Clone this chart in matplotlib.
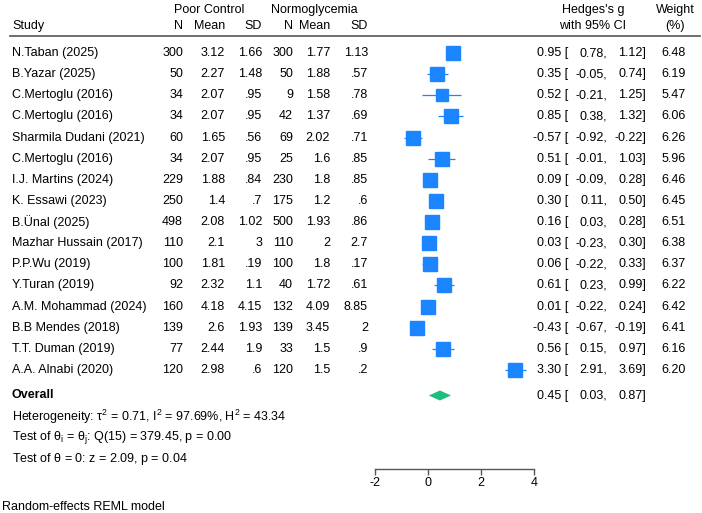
import numpy as np
import matplotlib.pyplot as plt

plt.rcParams['font.family'] = ['Liberation Sans', 'DejaVu Sans']
plt.rcParams['mathtext.fontset'] = 'custom'
plt.rcParams['mathtext.rm'] = 'Liberation Sans'
plt.rcParams['mathtext.it'] = 'Liberation Sans:italic'

# ---------------- data ----------------
studies = ["N.Taban (2025)", "B.Yazar (2025)", "C.Mertoglu (2016)", "C.Mertoglu (2016)",
           "Sharmila Dudani (2021)", "C.Mertoglu (2016)", "I.J. Martins (2024)", "K. Essawi (2023)",
           "B.Ünal (2025)", "Mazhar Hussain (2017)", "P.P.Wu (2019)", "Y.Turan (2019)",
           "A.M. Mohammad (2024)", "B.B Mendes (2018)", "T.T. Duman (2019)", "A.A. Alnabi (2020)"]
pc_n = [300, 50, 34, 34, 60, 34, 229, 250, 498, 110, 100, 92, 160, 139, 77, 120]
pc_mean = [3.12, 2.27, 2.07, 2.07, 1.65, 2.07, 1.88, 1.4, 2.08, 2.1, 1.81, 2.32, 4.18, 2.6, 2.44, 2.98]
pc_sd = [1.66, 1.48, .95, .95, .56, .95, .84, .7, 1.02, 3, .19, 1.1, 4.15, 1.93, 1.9, .6]
nm_n = [300, 50, 9, 42, 69, 25, 230, 175, 500, 110, 100, 40, 132, 139, 33, 120]
nm_mean = [1.77, 1.88, 1.58, 1.37, 2.02, 1.6, 1.8, 1.2, 1.93, 2, 1.8, 1.72, 4.09, 3.45, 1.5, 1.5]
nm_sd = [1.13, .57, .78, .69, .71, .85, .85, .6, .86, 2.7, .17, .61, 8.85, 2, .9, .2]
g = [0.95, 0.35, 0.52, 0.85, -0.57, 0.51, 0.09, 0.30, 0.16, 0.03, 0.06, 0.61, 0.01, -0.43, 0.56, 3.30]
g_lo = [0.78, -0.05, -0.21, 0.38, -0.92, -0.01, -0.09, 0.11, 0.03, -0.23, -0.22, 0.23, -0.22, -0.67, 0.15, 2.91]
g_hi = [1.12, 0.74, 1.25, 1.32, -0.22, 1.03, 0.28, 0.50, 0.28, 0.30, 0.33, 0.99, 0.24, -0.19, 0.97, 3.69]
weight = [6.48, 6.19, 5.47, 6.06, 6.26, 5.96, 6.46, 6.45, 6.51, 6.38, 6.37, 6.22, 6.42, 6.41, 6.16, 6.20]
overall = [0.45, 0.03, 0.87]
xticks = [-2, 0, 2, 4]

blue = '#1a85ff'
green = '#1dbd7e'
fs = 9.0


def stata_fmt(v):
    s = f"{v:g}"
    if s.startswith("0."):
        s = s[1:]
    return s


fig = plt.figure(figsize=(7.02, 5.13), dpi=100)

# text layer in pixel coordinates
tx = fig.add_axes([0, 0, 1, 1])
tx.set_xlim(0, 702)
tx.set_ylim(513, 0)
tx.axis('off')

row0, dy = 53, 21.13
ys = [row0 + dy * i for i in range(len(studies))]
y_over = 395.5

# header
tx.text(209, 10, "Poor Control", ha='center', va='center', fontsize=fs)
tx.text(314, 10, "Normoglycemia", ha='center', va='center', fontsize=fs)
tx.text(593, 10, "Hedges's g", ha='center', va='center', fontsize=fs)
tx.text(675, 10, "Weight", ha='center', va='center', fontsize=fs)
tx.text(12, 26, "Study", ha='left', va='center', fontsize=fs)
for xx, lab in zip([183, 225, 262, 293, 330, 368], ["N", "Mean", "SD", "N", "Mean", "SD"]):
    tx.text(xx, 26, lab, ha='right', va='center', fontsize=fs)
tx.text(593, 26, "with 95% CI", ha='center', va='center', fontsize=fs)
tx.text(675, 26, "(%)", ha='center', va='center', fontsize=fs)
tx.plot([10, 700], [36, 36], color='#555555', lw=1.2)

# study rows
for i, y in enumerate(ys):
    tx.text(12, y, studies[i], ha='left', va='center', fontsize=fs)
    cols = [str(pc_n[i]), stata_fmt(pc_mean[i]), stata_fmt(pc_sd[i]),
            str(nm_n[i]), stata_fmt(nm_mean[i]), stata_fmt(nm_sd[i])]
    for xx, s in zip([183, 225, 262, 293, 330, 368], cols):
        tx.text(xx, y, s, ha='right', va='center', fontsize=fs)
    tx.text(568, y, f"{g[i]:.2f} [", ha='right', va='center', fontsize=fs)
    tx.text(607, y, f"{g_lo[i]:.2f},", ha='right', va='center', fontsize=fs)
    tx.text(646, y, f"{g_hi[i]:.2f}]", ha='right', va='center', fontsize=fs)
    tx.text(686, y, f"{weight[i]:.2f}", ha='right', va='center', fontsize=fs)

tx.text(12, y_over, "Overall", ha='left', va='center', fontsize=fs, fontweight='bold')
tx.text(568, y_over, f"{overall[0]:.2f} [", ha='right', va='center', fontsize=fs)
tx.text(607, y_over, f"{overall[1]:.2f},", ha='right', va='center', fontsize=fs)
tx.text(646, y_over, f"{overall[2]:.2f}]", ha='right', va='center', fontsize=fs)

tx.text(12, 417, r"Heterogeneity: $\mathregular{\tau^2}$ = 0.71, $\mathregular{I^2}$ = 97.69%, $\mathregular{H^2}$ = 43.34",
        ha='left', va='center', fontsize=fs)
tx.text(12, 438, r"Test of $\mathregular{\theta_i}$ = $\mathregular{\theta_j}$: Q(15) = 379.45, p = 0.00",
        ha='left', va='center', fontsize=fs)
tx.text(12, 459, r"Test of $\mathregular{\theta}$ = 0: z = 2.09, p = 0.04",
        ha='left', va='center', fontsize=fs)
tx.text(2, 507, "Random-effects REML model", ha='left', va='center', fontsize=fs)

# forest panel: x from -2 (375px) to 4 (534px), y in row units
top_px, bot_px = 36, 469
ax = fig.add_axes([375 / 702, 1 - bot_px / 513, (534 - 375) / 702, (bot_px - top_px) / 513])
ax.set_xlim(-2, 4)
ax.set_ylim((bot_px - row0) / dy, (top_px - row0) / dy)
ax.patch.set_alpha(0)
for sp in ['top', 'left', 'right']:
    ax.spines[sp].set_visible(False)
ax.spines['bottom'].set_color('#555555')
ax.spines['bottom'].set_linewidth(1.0)
ax.set_yticks([])
ax.set_xticks(xticks)
ax.set_xticklabels([str(t) for t in xticks])
ax.tick_params(axis='x', length=4, width=1.0, color='#555555', pad=2, labelsize=fs)

rows = np.arange(len(studies))
ax.hlines(rows, g_lo, g_hi, color=blue, lw=0.9, clip_on=False)
for i in rows:
    ms = 10 * np.sqrt(weight[i] / 6.5)
    ax.plot(g[i], i, marker='s', ms=ms, color=blue, mec=blue, clip_on=False)

yo = (y_over - row0) / dy
hh = 5 / dy
ax.fill([overall[1], overall[0], overall[2], overall[0]], [yo, yo - hh, yo, yo + hh],
        color=green, lw=0, clip_on=False)

fig.savefig('out.png', dpi=100)
